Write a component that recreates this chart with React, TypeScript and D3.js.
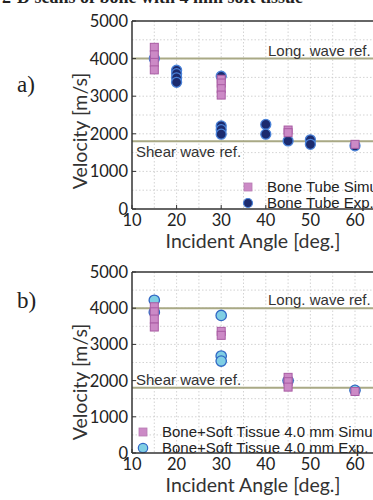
import * as d3 from 'd3';

// panel a) Bone Tube
const tubeSimAngle = [15, 15, 15, 15, 30, 30, 30, 30, 45, 45, 60];
const tubeSimVel = [4300, 4100, 3900, 3700, 3450, 3350, 3200, 3030, 2100, 2030, 1720];
const tubeExpAngle = [15, 20, 20, 20, 20, 30, 30, 30, 30, 40, 40, 45, 50, 50, 60];
const tubeExpVel = [4000, 3690, 3600, 3490, 3370, 3530, 2210, 2110, 1990, 2250, 1990, 1810, 1840, 1720, 1680];

// panel b) Bone + Soft Tissue 4.0 mm
const softSimAngle = [15, 15, 15, 15, 30, 30, 45, 45, 45, 60];
const softSimVel = [4040, 3900, 3700, 3480, 3360, 3250, 2090, 1970, 1820, 1700];
const softExpAngle = [15, 15, 30, 30, 30, 45, 60];
const softExpVel = [4220, 3890, 3800, 2680, 2540, 2000, 1730];

const longRef = 4000;
const shearRef = 1800;
const xTicks = [10, 20, 30, 40, 50, 60];
const yTicks = [0, 1000, 2000, 3000, 4000, 5000];

const tickFont = 'Lato, "Open Sans", sans-serif';
const textFont = '"Liberation Sans", Arial, sans-serif';

function Panel({ top, bottom, letter, letterY, titleY, simA, simV, expA, expV, simLabel, expLabel, expFill, expStroke, expR, leg }) {
  const x = d3.scaleLinear().domain([10, 70]).range([132, 132 + 60 * 4.46]);
  const y = d3.scaleLinear().domain([0, 5000]).range([bottom, top]);
  const gx = d3.range(15, 70, 5);
  const gy = d3.range(500, 5000, 500);
  const sq = 8;
  return (
    <g>
      <text x={17} y={letterY} fontFamily='"Liberation Serif", "Times New Roman", serif' fontSize={23} fill="#222">{letter}</text>
      {/* grid */}
      {gx.map(v => (
        <line key={'gx' + v} x1={x(v)} x2={x(v)} y1={y(5000)} y2={y(0)} stroke="#c8c8c8" strokeWidth={0.8} strokeDasharray="1.5,2" />
      ))}
      {gy.map(v => (
        <line key={'gy' + v} x1={x(10)} x2={x(70)} y1={y(v)} y2={y(v)} stroke="#c8c8c8" strokeWidth={0.8} strokeDasharray="1.5,2" />
      ))}
      {/* reference lines */}
      <line x1={x(10)} x2={x(70)} y1={y(longRef)} y2={y(longRef)} stroke="#a9a985" strokeWidth={2} />
      <line x1={x(10)} x2={x(70)} y1={y(shearRef)} y2={y(shearRef)} stroke="#a9a985" strokeWidth={2} />
      <text x={x(10) + 136} y={y(longRef) - 3} fontFamily={textFont} fontSize={15} fill="#333">Long. wave ref.</text>
      <text x={x(10) + 4} y={y(shearRef) + (letter === 'a)' ? 16 : -3)} fontFamily={textFont} fontSize={15} fill="#333">Shear wave ref.</text>
      {/* experiment markers */}
      {expA.map((a, i) => (
        <circle key={'e' + i} cx={x(a)} cy={y(expV[i])} r={expR} fill={expFill} stroke={expStroke} strokeWidth={1.3} />
      ))}
      {/* simulation markers */}
      {simA.map((a, i) => (
        <rect key={'s' + i} x={x(a) - sq / 2} y={y(simV[i]) - sq / 2} width={sq} height={sq} fill="#cc8ac6" stroke="#a95ca3" strokeWidth={1} />
      ))}
      {/* legend */}
      <rect x={leg.x - 4} y={leg.y1 - 4} width={8} height={8} fill="#cc8ac6" stroke="#b77bb2" strokeWidth={0.8} />
      <circle cx={leg.x} cy={leg.y2} r={expR - 0.5} fill={expFill} stroke={expStroke} strokeWidth={1.2} />
      <text x={leg.x + 19} y={leg.y1 + 5} fontFamily={textFont} fontSize={15} fill="#222">{simLabel}</text>
      <text x={leg.x + 19} y={leg.y2 + 5} fontFamily={textFont} fontSize={15} fill="#222">{expLabel}</text>
      {/* axes */}
      <line x1={x(10)} x2={x(70)} y1={y(5000)} y2={y(5000)} stroke="#333" strokeWidth={1.5} />
      <line x1={x(10)} x2={x(70)} y1={y(0)} y2={y(0)} stroke="#333" strokeWidth={1.5} />
      <line x1={x(10)} x2={x(10)} y1={y(5000)} y2={y(0)} stroke="#333" strokeWidth={1.5} />
      {xTicks.map(v => (
        <g key={'xt' + v}>
          <line x1={x(v)} x2={x(v)} y1={y(0)} y2={y(0) - 4} stroke="#333" strokeWidth={1} />
          <text x={x(v)} y={y(0) + 17} textAnchor="middle" fontFamily={tickFont} fontSize={16.5} fill="#222">{v}</text>
        </g>
      ))}
      {yTicks.map(v => (
        <g key={'yt' + v}>
          <line x1={x(10)} x2={x(10) + 4} y1={y(v)} y2={y(v)} stroke="#333" strokeWidth={1} />
          <text x={x(10) - 4} y={y(v) + 6} textAnchor="end" fontFamily={tickFont} fontSize={16.5} fill="#222">{v}</text>
        </g>
      ))}
      <text x={253} y={y(0) + 39} textAnchor="middle" fontFamily={tickFont} fontSize={19.5} fill="#333">Incident Angle [deg.]</text>
      <text transform={`translate(87,${titleY}) rotate(-90)`} textAnchor="middle" fontFamily={tickFont} fontSize={19.5} fill="#333">Velocity [m/s]</text>
    </g>
  );
}

export default function App() {
  return (
    <svg width={373} height={500} style={{ position: 'absolute', left: 0, top: 0, background: '#fff' }}>
      <rect width={373} height={500} fill="#fff" />
      <text x={2} y={3} fontFamily='"Liberation Serif", "Times New Roman", serif' fontWeight="bold" fontSize={18} fill="#222">2-D scans of bone with 4 mm soft tissue</text>
      <Panel top={21} bottom={209} letter="a)" letterY={92} titleY={131}
        simA={tubeSimAngle} simV={tubeSimVel} expA={tubeExpAngle} expV={tubeExpVel}
        simLabel="Bone Tube Simulation" expLabel="Bone Tube Exp."
        expFill="#1c2b6e" expStroke="#4a82d8" expR={5}
        leg={{ x: 248, y1: 187, y2: 203 }} />
      <Panel top={272} bottom={453} letter="b)" letterY={308} titleY={382}
        simA={softSimAngle} simV={softSimVel} expA={softExpAngle} expV={softExpVel}
        simLabel="Bone+Soft Tissue 4.0 mm Simulation" expLabel="Bone+Soft Tissue 4.0 mm Exp."
        expFill="#80cfe4" expStroke="#3068c4" expR={5.2}
        leg={{ x: 143, y1: 432, y2: 448 }} />
    </svg>
  );
}
